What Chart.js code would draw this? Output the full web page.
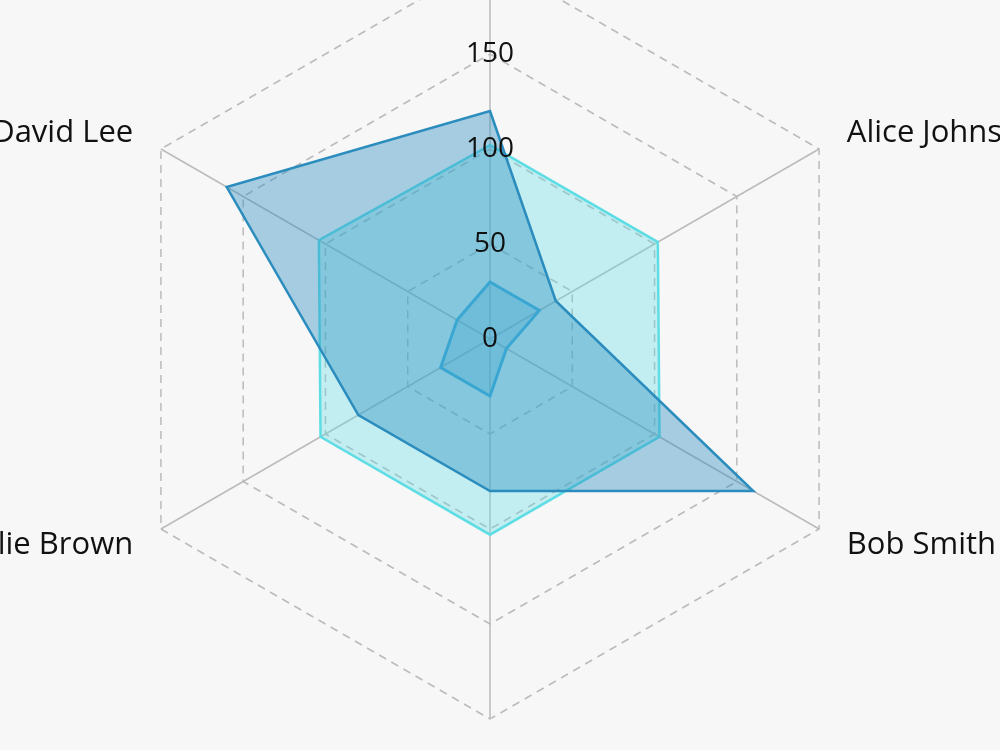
<!DOCTYPE html>
<html>
<head>
<meta charset="utf-8">
<script src="https://cdn.jsdelivr.net/npm/chart.js@4/dist/chart.umd.min.js"></script>
<style>
    html, body { margin: 0; padding: 0; background: #f7f7f7; overflow: hidden; width: 1000px; height: 750px; }
    #wrap { position: absolute; left: 0; top: -57px; width: 1000px; height: 792px; }
</style>
</head>
<body>
<div id="wrap"><canvas id="radarChart"></canvas></div>
<script>
// Chart data
const people = ["Eve Davis", "Alice Johnson", "Bob Smith", "Frank Miller", "Charlie Brown", "David Lee"];
const seriesSmall = [30, 30, 10, 30, 30, 20];
const seriesBlue = [120, 40, 160, 80, 80, 160];
const seriesCyan = [102, 102, 103, 103, 103, 104];
const tickMin = 0;
const tickMax = 200;
const tickStep = 50;

const FONT = "'Open Sans', 'DejaVu Sans', sans-serif";

// Draw the names round the web, plus the "0" label at the centre
const labelPlugin = {
    id: "nameLabels",
    afterDraw(chart) {
        const scale = chart.scales.r;
        const ctx = chart.ctx;
        ctx.save();
        ctx.fillStyle = "#111";
        ctx.font = "31px " + FONT;
        chart.data.labels.forEach((name, i) => {
            const pos = scale.getPointPosition(i, scale.drawingArea + 32);
            const a = scale.getIndexAngle(i);
            const s = Math.sin(a), c = Math.cos(a);
            if (Math.abs(s) < 0.01) {
                ctx.textAlign = "center";
                ctx.textBaseline = c > 0 ? "bottom" : "top";
            } else {
                ctx.textAlign = s > 0 ? "left" : "right";
                ctx.textBaseline = "middle";
            }
            ctx.fillText(name, pos.x, pos.y);
        });
        ctx.font = "28px " + FONT;
        ctx.textAlign = "center";
        ctx.textBaseline = "middle";
        const p0 = scale.getPointPositionForValue(0, tickMin);
        ctx.fillText(String(tickMin), p0.x, p0.y);
        ctx.restore();
    }
};

const ctx = document.getElementById("radarChart").getContext("2d");
new Chart(ctx, {
    type: "radar",
    data: {
        labels: people,
        datasets: [
            {
                label: "Series C",
                data: seriesSmall,
                borderColor: "#3aa6d2",
                backgroundColor: "rgba(58, 166, 210, 0.3)",
                borderWidth: 3
            },
            {
                label: "Series B",
                data: seriesBlue,
                borderColor: "#2b8cbe",
                backgroundColor: "rgba(43, 140, 190, 0.4)",
                borderWidth: 2.5
            },
            {
                label: "Series A",
                data: seriesCyan,
                borderColor: "#5fdde4",
                backgroundColor: "rgba(95, 221, 228, 0.35)",
                borderWidth: 2.5
            }
        ]
    },
    options: {
        responsive: true,
        maintainAspectRatio: false,
        animation: false,
        layout: { padding: { right: 20 } },
        elements: { point: { radius: 0, hoverRadius: 0 }, line: { tension: 0 } },
        plugins: {
            legend: { display: false },
            tooltip: { enabled: false }
        },
        scales: {
            r: {
                min: tickMin,
                max: tickMax,
                ticks: {
                    stepSize: tickStep,
                    showLabelBackdrop: false,
                    color: "#111",
                    z: 1,
                    font: { family: FONT, size: 28 }
                },
                grid: { color: "#bbbbbb", lineWidth: 1.5 },
                border: { dash: [8, 6] },
                angleLines: { color: "#bbbbbb", lineWidth: 1.5 },
                pointLabels: { display: false }
            }
        }
    },
    plugins: [labelPlugin]
});
</script>
</body>
</html>
